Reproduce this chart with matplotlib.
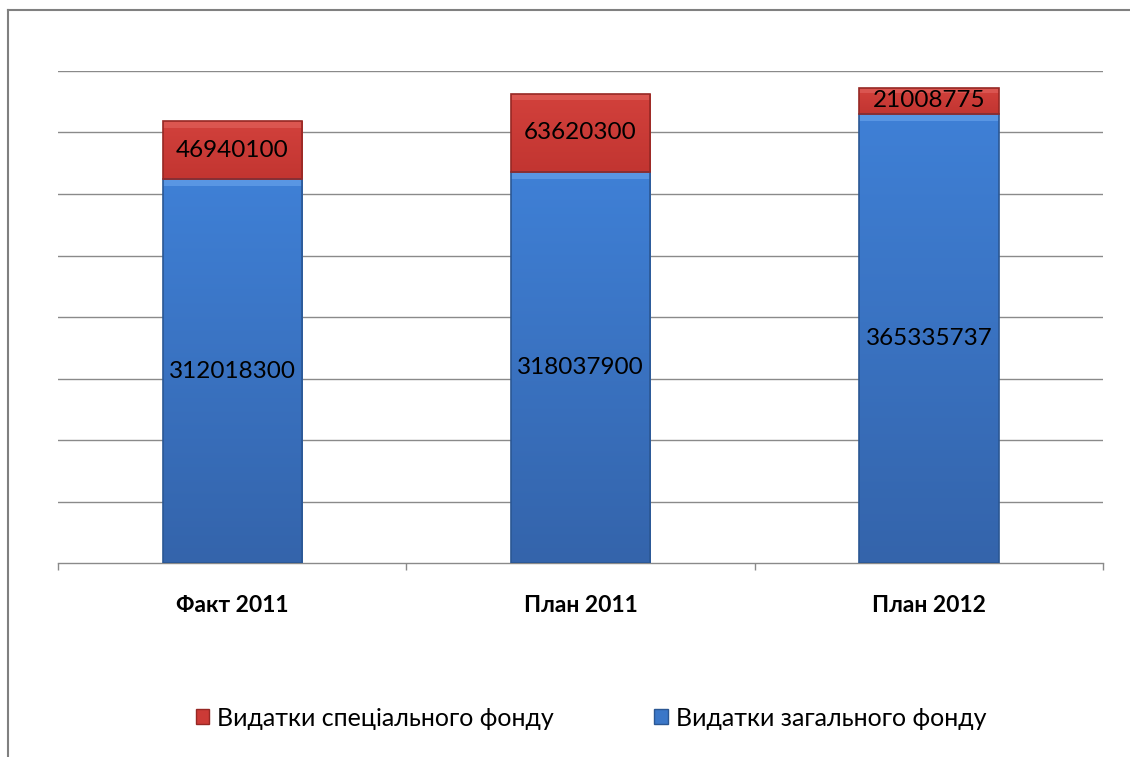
import matplotlib
matplotlib.use("Agg")
import matplotlib.pyplot as plt
import numpy as np
from matplotlib.lines import Line2D
from matplotlib.patches import Patch
from matplotlib.colors import LinearSegmentedColormap

categories = ["Факт 2011", "План 2011", "План 2012"]
general_fund = [312018300, 318037900, 365335737]
special_fund = [46940100, 63620300, 21008775]
series_names = ["Видатки спеціального фонду", "Видатки загального фонду"]
y_max = 400000000
grid_step = 50000000

W, H = 1130, 757
fig = plt.figure(figsize=(W / 100, H / 100), dpi=100)
plt.rcParams['font.family'] = ['Lato', 'DejaVu Sans']

ax = fig.add_axes([58 / W, 1 - 563 / H, (1103 - 58) / W, (563 - 71) / H])

blue = "#3b77c8"
blue_edge = "#2b5793"
red = "#cc3a36"
red_edge = "#962824"

x = list(range(len(categories)))
b1 = ax.bar(x, general_fund, width=0.4, color=blue, edgecolor="none", zorder=3)
b2 = ax.bar(x, special_fund, width=0.4, bottom=general_fund, color=red, edgecolor="none", zorder=3)

# bevel-like shading: vertical gradient clipped to each bar plus a light top band
def shade(bars, c_top, c_bottom, c_hi, c_edge):
    cmap = LinearSegmentedColormap.from_list("g", [c_bottom, c_top])
    grad = np.linspace(0, 1, 256).reshape(-1, 1)
    for p in bars:
        x0, y0 = p.get_x(), p.get_y()
        w, h = p.get_width(), p.get_height()
        im = ax.imshow(grad, cmap=cmap, aspect="auto", origin="lower",
                       extent=[x0, x0 + w, y0, y0 + h], zorder=3.1)
        im.set_clip_path(p)
        band = min(h * 0.2, y_max * 0.014)
        ax.add_patch(plt.Rectangle((x0, y0 + h - band), w, band,
                                   facecolor=c_hi, edgecolor="none", alpha=0.45, zorder=3.2))
        ax.add_patch(plt.Rectangle((x0, y0), w, h, facecolor="none",
                                   edgecolor=c_edge, linewidth=1.2, zorder=3.3))

shade(b1, "#3f80d6", "#3464ab", "#7ab4f5", blue_edge)
shade(b2, "#d2413c", "#c23531", "#e8716b", red_edge)
ax.set_xlim(-0.5, len(categories) - 0.5)
ax.set_ylim(0, y_max)

for i in x:
    ax.text(i, general_fund[i] / 2, str(general_fund[i]), ha="center", va="center",
            fontsize=17.5, color="black", zorder=5)
    ax.text(i, general_fund[i] + special_fund[i] / 2, str(special_fund[i]), ha="center", va="center",
            fontsize=17.5, color="black", zorder=5)

ax.set_yticks(range(grid_step, y_max + 1, grid_step))
ax.yaxis.grid(True, color="#8a8a8a", linewidth=1.0)
ax.set_axisbelow(True)
ax.tick_params(axis="y", left=False, labelleft=False)
for s in ["left", "right", "top"]:
    ax.spines[s].set_visible(False)
ax.spines["bottom"].set_color("#8a8a8a")
ax.spines["bottom"].set_linewidth(1.0)

ax.set_xticks(x)
ax.set_xticklabels(categories, fontsize=16.5, fontweight="bold")
ax.tick_params(axis="x", length=0, pad=23)
ax.set_xticks([i - 0.5 for i in range(len(categories) + 1)], minor=True)
ax.tick_params(axis="x", which="minor", length=5, color="#8a8a8a", width=1)

handles = [Patch(facecolor=red, edgecolor=red_edge), Patch(facecolor=blue, edgecolor=blue_edge)]
fig.legend(handles, series_names, loc="center", bbox_to_anchor=(591 / W, 1 - 718 / H),
           ncol=2, frameon=False, fontsize=18, handlelength=0.55, handleheight=0.55,
           handletextpad=0.32, columnspacing=4.0)

# outer frame lines
fig.add_artist(Line2D([8 / W, 8 / W], [0, 1 - 10 / H], transform=fig.transFigure, color="#808080", linewidth=1.5))
fig.add_artist(Line2D([8 / W, 1], [1 - 10 / H, 1 - 10 / H], transform=fig.transFigure, color="#808080", linewidth=1.5))

fig.savefig("out.png", dpi=100)
